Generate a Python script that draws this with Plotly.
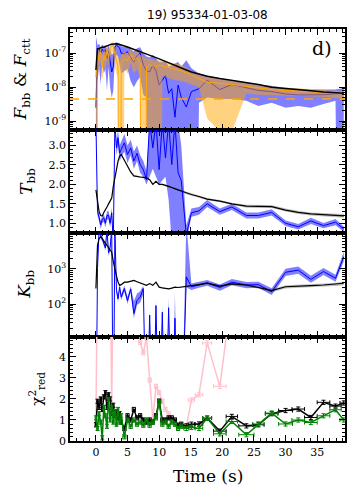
import plotly.graph_objects as go
from plotly.subplots import make_subplots

# time bins (s) and their half widths
TIME = [0.0, 0.25, 0.5, 0.75, 1.0, 1.25, 1.5, 1.75, 2.0, 2.25, 2.5, 2.75, 3.0, 3.25, 3.5, 3.75, 4.0,
        4.5, 5.0, 5.5, 6.0, 6.5, 7.0, 7.5, 8.0, 8.5, 9.0, 9.5, 10.0, 10.5, 11.0, 11.5, 12.0, 12.5, 13.0, 13.5,
        14.3, 15.1, 16.3, 17.6, 19.6, 21.5, 23.8, 25.7, 27.8, 30.0, 32.0, 34.0, 36.0, 37.9, 39.2]
TIME_HALF = [0.125] * 17 + [0.25] * 19 + [0.4, 0.5, 0.6, 0.7, 1.0, 0.9, 1.2, 0.9, 1.0, 1.1, 1.0, 1.0, 1.0, 0.9, 0.6]

# fluxes in units of 1e-9 erg/cm2/s (1e-20 = off the bottom of the plot)
F_TOT = [32, 135, 138, 145, 148, 150, 158, 165, 174, 178, 182, 186, 190, 190, 186, 182, 174,
         162, 151, 138, 129, 120, 110, 102, 93, 87, 79, 74, 68, 62, 56, 51, 47, 43, 39, 36,
         32, 28, 24, 21, 18, 16, 14, 12, 10, 9.3, 8.5, 7.9, 7.2, 6.9, 6.6]
F_BB = [2.5, 120, 140, 95, 130, 110, 125, 70, 115, 60, 28, 40, 150, 170, 160, 140, 100,
        95, 110, 75, 55, 85, 100, 45, 30, 28, 44, 30, 11.5, 16, 22, 6.6, 9, 1.3, 11.5, 5,
        2.6, 7.4, 9, 16, 8.5, 12, 9.5, 8, 7.4, 6.3, 5.9, 5.9, 6.0, 6.4, 6.6]
F_BB_LO = [1e-20, 15, 40, 12, 50, 25, 35, 8, 40, 10, 5, 8, 70, 90, 80, 50, 25,
           30, 35, 15, 10, 15, 20, 6, 5, 1e-20, 1e-20, 1e-20, 1e-20, 1e-20, 1e-20, 1e-20, 1e-20, 1e-20, 1e-20, 1e-20,
           1e-20, 1e-20, 3.5, 5, 4.5, 4.5, 4, 2.8, 3.5, 2.5, 2.8, 2.5, 3.2, 4, 1e-20]
F_BB_HI = [320, 170, 190, 150, 180, 160, 175, 130, 170, 120, 90, 100, 200, 210, 200, 190, 160,
           150, 160, 130, 110, 140, 150, 100, 80, 75, 90, 70, 55, 55, 60, 40, 45, 50, 55, 40,
           62, 36, 25, 22, 18, 15, 14, 12, 11, 9.5, 9, 8.5, 8.5, 8.5, 9.5]
F_CTT = [20, 100, 60, 110, 40, 90, 60, 120, 80, 140, 160, 170, 90, 60, 40, 1e-20, 50,
         70, 60, 90, 60, 75, 50, 1e-20, 40, 45, 42, 40, 45, 42, 40, 38, 36, 34, 33, 30,
         26, 22, 18, 14, 13, 12, 10.5, 9.5, 8.5, 8, 7.6, 7.3, 7.0, 6.7, 6.4]
F_CTT_LO = [1e-20, 50, 25, 60, 15, 45, 25, 70, 40, 80, 100, 110, 40, 25, 20, 1e-20, 1e-20,
            35, 25, 50, 25, 35, 20, 1e-20, 15, 1e-20, 1e-20, 1e-20, 1e-20, 22, 20, 18, 17, 16, 16, 15,
            14, 12, 10, 1.2, 0.5, 0.5, 6.5, 6, 5.8, 5.8, 5.5, 5.3, 5.2, 4.8, 4.5]
F_CTT_HI = [60, 150, 110, 160, 80, 140, 110, 170, 130, 190, 210, 220, 140, 110, 80, 60, 90,
            110, 100, 130, 100, 115, 90, 80, 70, 70, 65, 60, 62, 60, 57, 54, 52, 50, 48, 45,
            38, 30, 24, 20, 18, 16, 14, 12, 10.5, 9.8, 9.2, 8.8, 8.4, 8.0, 7.6]
F_LIMIT = 4.5e-9

# blackbody temperature (keV)
T_BB = [3.6, 1.3, 1.15, 0.96, 1.1, 1.14, 1.0, 1.2, 1.21, 1.0, 1.27, 0.5, 3.6, 2.94, 3.2, 2.8, 2.9,
        3.07, 2.77, 2.94, 2.6, 2.8, 2.51, 2.38, 2.12, 3.6, 2.94, 3.6, 2.38, 3.6, 2.68, 3.6, 2.51, 3.6, 2.3, 2.1,
        0.7, 1.27, 1.32, 1.5, 1.3, 1.42, 1.2, 1.2, 1.28, 1.0, 0.91, 1.06, 0.94, 1.03, 0.85]
T_BB_LO = [3.4, 1.2, 1.05, 0.86, 1.0, 1.04, 0.9, 1.1, 1.1, 0.9, 1.15, 0.3, 3.4, 2.75, 3.0, 2.6, 2.7,
           2.85, 2.55, 2.75, 2.4, 2.6, 2.3, 2.2, 2.0, 2.2, 2.4, 2.2, 2.0, 2.1, 2.2, 1.6, 0.5, 0.5, 0.5, 0.5,
           0.5, 1.17, 1.22, 1.42, 1.22, 1.34, 1.12, 1.12, 1.2, 0.93, 0.84, 0.98, 0.87, 0.95, 0.78]
T_BB_HI = [3.6, 1.4, 1.25, 1.06, 1.2, 1.24, 1.1, 1.3, 1.32, 1.1, 1.4, 0.7, 3.6, 3.1, 3.4, 3.0, 3.1,
           3.3, 3.0, 3.15, 2.85, 3.0, 2.75, 2.6, 2.35, 3.6, 3.6, 3.6, 3.6, 3.6, 3.6, 3.6, 3.6, 3.6, 3.6, 3.0,
           0.95, 1.38, 1.42, 1.6, 1.38, 1.5, 1.28, 1.28, 1.36, 1.07, 0.98, 1.14, 1.01, 1.11, 0.92]
T_BLACK = [1.86, 1.55, 1.3, 1.2, 1.19, 1.28, 1.37, 1.42, 1.5, 1.56, 1.65, 1.95, 2.2, 2.43, 2.6, 2.73, 2.77,
           2.62, 2.45, 2.32, 2.22, 2.2, 2.19, 2.18, 2.17, 2.12, 2.0, 2.08, 2.0, 2.0, 1.98, 1.95, 1.92, 1.88, 1.86, 1.83,
           1.78, 1.74, 1.69, 1.62, 1.57, 1.5, 1.44, 1.43, 1.43, 1.34, 1.28, 1.24, 1.22, 1.2, 1.19]
T_BLACK_ERR = [0.02] * 36 + [0.03, 0.03, 0.03, 0.03, 0.03, 0.03, 0.04, 0.04, 0.04, 0.04, 0.04, 0.04, 0.04, 0.04, 0.05]

# blackbody normalisation
K_BLACK = [275, 4570, 7080, 7940, 7080, 6030, 5370, 4570, 3980, 3390, 2950, 1580, 890, 630, 417, 339, 355,
           417, 417, 447, 468, 427, 398, 363, 339, 380, 339, 417, 302, 288, 275, 269, 282, 302, 295, 302,
           309, 331, 355, 389, 324, 372, 347, 295, 240, 309, 316, 331, 347, 363, 389]
K_BLACK_ERR = [0.03] * 36 + [0.05, 0.05, 0.06, 0.06, 0.07, 0.07, 0.08, 0.08, 0.1, 0.1, 0.1, 0.1, 0.1, 0.1, 0.12]
K_BB = [0.01, 1000, 12600, 8500, 7080, 5370, 3890, 12600, 2820, 3980, 12600, 0.01, 12600, 245, 141, 302, 158,
        275, 126, 269, 54, 126, 158, 275, 0.01, 49, 0.01, 91, 0.01, 59, 0.01, 79, 0.01, 40, 0.01, 0.01,
        589, 309, 347, 398, 295, 417, 347, 355, 224, 794, 912, 501, 832, 537, 2190]
K_BB_LO = [0.01, 850, 10000, 7000, 6000, 4500, 3200, 10000, 2300, 3300, 10000, 0.01, 10000, 200, 115, 250, 130,
           225, 100, 220, 40, 95, 110, 190, 0.01, 35, 0.01, 65, 0.01, 40, 0.01, 50, 0.01, 25, 0.01, 0.01,
           300, 250, 290, 330, 240, 340, 280, 290, 180, 620, 720, 400, 660, 430, 1600]
K_BB_HI = [0.01, 1200, 20000, 10000, 8500, 6500, 4700, 20000, 3400, 4800, 20000, 0.01, 20000, 300, 170, 370, 190,
           330, 160, 320, 120, 200, 230, 330, 0.01, 70, 0.01, 130, 0.01, 90, 0.01, 150, 0.01, 200, 0.01, 0.01,
           20000, 380, 420, 480, 360, 510, 420, 430, 280, 1000, 1150, 630, 1050, 680, 3000]

# reduced chi2 of the three models
CHI_BLACK = [0.77, 1.89, 1.6, 2.0, 1.5, 2.1, 2.3, 1.6, 2.2, 2.0, 1.3, 1.7, 1.2, 1.4, 1.1, 1.3, 0.9,
             0.6, 1.2, 1.0, 1.5, 1.1, 1.2, 1.0, 0.9, 1.0, 0.9, 1.2, 1.9, 1.0, 1.0, 1.1, 1.1, 1.0, 0.75, 0.8,
             0.72, 0.8, 0.81, 1.09, 0.47, 1.17, 0.72, 0.77, 1.3, 1.45, 1.52, 1.12, 1.84, 1.66, 1.81]
CHI_GREEN = [1.1, 0.6, 1.3, 0.9, 0.15, 1.6, 1.2, 0.7, 1.98, 1.0, 1.6, 0.9, 1.4, 0.8, 1.5, 0.9, 1.2,
             0.2, 1.0, 0.7, 1.0, 0.8, 0.9, 0.75, 1.0, 0.75, 0.9, 1.1, 1.85, 0.8, 0.9, 0.7, 0.9, 0.8, 0.6, 0.7,
             0.6, 0.65, 0.6, 1.09, 0.34, 0.93, 0.3, 0.81, 1.33, 0.81, 1.0, 0.88, 1.2, 1.49, 1.0]
CHI_PINK = [0.8, 9, 9, 9, 9, 9, 9, 9, 9, 9, 1.6, 9, 9, 9, 9, 9, 9,
            9, 9, 9, 9, 9, 4.7, 4.2, 4.9, 2.9, 1.0, 2.6, 2.3, 1.9, 1.5, 1.3, 1.0, 0.82, 0.78, 0.75,
            0.7, 1.95, 2.2, 4.67, 2.6, 7, 9, 9, 9, 9, 9, 9, 9, 9, 9]
CHI_ERR = 0.1

X_TICKS = [0, 5, 10, 15, 20, 25, 30, 35]
F_TICKS = [1e-9, 1e-8, 1e-7]
F_LABELS = ['10<sup>-9</sup>', '10<sup>-8</sup>', '10<sup>-7</sup>']
T_TICKS = [1.0, 1.5, 2.0, 2.5, 3.0]
K_TICKS = [100, 1000]
K_LABELS = ['10<sup>2</sup>', '10<sup>3</sup>']
CHI_TICKS = [0, 1, 2, 3, 4]

SERIF = 'DejaVu Serif'
BLUE_FILL = 'rgba(0,0,255,0.5)'
ORANGE_FILL = 'rgba(255,165,0,0.5)'
GREY_FILL = 'rgba(0,0,0,0.25)'

fig = make_subplots(rows=4, cols=1, shared_xaxes=True, vertical_spacing=0,
                    row_heights=[101, 103, 104, 104])


def add_band(row, lo, hi, color):
    fig.add_trace(go.Scatter(x=TIME, y=hi, mode='lines', line=dict(width=0),
                             showlegend=False, hoverinfo='skip'), row=row, col=1)
    fig.add_trace(go.Scatter(x=TIME, y=lo, mode='lines', line=dict(width=0),
                             fill='tonexty', fillcolor=color,
                             showlegend=False, hoverinfo='skip'), row=row, col=1)


def add_line(row, y, color, width=1.0):
    fig.add_trace(go.Scatter(x=TIME, y=y, mode='lines', line=dict(color=color, width=width),
                             showlegend=False), row=row, col=1)


def scale(vals, k):
    return [v * k for v in vals]


# panel 1: fluxes
add_band(1, scale(F_BB_LO, 1e-9), scale(F_BB_HI, 1e-9), BLUE_FILL)
add_line(1, scale(F_BB, 1e-9), 'blue')
add_band(1, scale(F_CTT_LO, 1e-9), scale(F_CTT_HI, 1e-9), ORANGE_FILL)
add_line(1, scale(F_CTT, 1e-9), 'orange')
add_line(1, scale(F_TOT, 1e-9), 'black', 1.5)
fig.add_hline(y=F_LIMIT, line=dict(color='orange', width=1.5, dash='dash'), row=1, col=1)

# panel 2: temperature
add_band(2, T_BB_LO, T_BB_HI, BLUE_FILL)
add_line(2, T_BB, 'blue')
add_band(2, [t - e for t, e in zip(T_BLACK, T_BLACK_ERR)],
         [t + e for t, e in zip(T_BLACK, T_BLACK_ERR)], GREY_FILL)
add_line(2, T_BLACK, 'black', 1.2)

# panel 3: normalisation
add_band(3, K_BB_LO, K_BB_HI, BLUE_FILL)
add_line(3, K_BB, 'blue')
add_band(3, [k * (1 - e) for k, e in zip(K_BLACK, K_BLACK_ERR)],
         [k * (1 + e) for k, e in zip(K_BLACK, K_BLACK_ERR)], GREY_FILL)
add_line(3, K_BLACK, 'black', 1.2)

# panel 4: reduced chi2
for vals, color in [(CHI_PINK, 'pink'), (CHI_BLACK, 'black'), (CHI_GREEN, 'green')]:
    fig.add_trace(go.Scatter(
        x=TIME, y=vals, mode='lines', line=dict(color=color, width=1.5),
        error_x=dict(type='data', array=TIME_HALF, color=color, thickness=1, width=2),
        error_y=dict(type='constant', value=CHI_ERR, color=color, thickness=1, width=2),
        showlegend=False), row=4, col=1)

tick_font = dict(family=SERIF, size=11, color='black')
axis_common = dict(showline=True, linecolor='black', linewidth=1.5, mirror='allticks',
                   ticks='inside', ticklen=6, tickwidth=1, tickcolor='black',
                   showgrid=False, zeroline=False, tickfont=tick_font)

fig.update_xaxes(range=[-4.1, 39.4], tickvals=X_TICKS,
                 minor=dict(ticks='inside', ticklen=3, dtick=1, tickcolor='black'),
                 **axis_common)
for r in (1, 2, 3):
    fig.update_xaxes(showticklabels=False, row=r, col=1)

fig.update_yaxes(type='log', range=[-9.26, -6.29], tickvals=F_TICKS, ticktext=F_LABELS,
                 minor=dict(ticks='inside', ticklen=3, dtick='D1', tickcolor='black'),
                 row=1, col=1, **axis_common)
fig.update_yaxes(range=[0.75, 3.4], tickvals=T_TICKS, tickformat='.1f',
                 minor=dict(ticks='inside', ticklen=3, dtick=0.1, tickcolor='black'),
                 row=2, col=1, **axis_common)
fig.update_yaxes(type='log', range=[1.07, 4.01], tickvals=K_TICKS, ticktext=K_LABELS,
                 minor=dict(ticks='inside', ticklen=3, dtick='D1', tickcolor='black'),
                 row=3, col=1, **axis_common)
fig.update_yaxes(range=[0, 4.95], tickvals=CHI_TICKS,
                 minor=dict(ticks='inside', ticklen=3, dtick=0.2, tickcolor='black'),
                 row=4, col=1, **axis_common)

label_font = dict(family=SERIF, size=17, color='black')


def note(text, x, y, font, angle=0):
    return dict(text=text, x=x, y=y, xref='paper', yref='paper', xanchor='center',
                yanchor='middle', textangle=angle, showarrow=False, font=font)


annotations = [
    note('19) 95334-01-03-08', 0.5, 1.034, dict(family='DejaVu Sans', size=12, color='black')),
    note('d)', 0.917, 0.953, dict(family=SERIF, size=19, color='black')),
    note('<i>F</i><sub>bb</sub> &amp; <i>F</i><sub>ctt</sub>', -0.175, 0.877, label_font, -90),
    note('<i>T</i><sub>bb</sub>', -0.155, 0.63, label_font, -90),
    note('<i>K</i><sub>bb</sub>', -0.16, 0.379, label_font, -90),
    note('χ<sup>2</sup><sub>red</sub>', -0.125, 0.126, dict(family=SERIF, size=15, color='black'), -90),
    note('Time (s)', 0.5, -0.084, label_font),
]
# the page body adds an 8px margin, so the figure is drawn 8px smaller each way
fig.update_layout(width=350, height=487, margin=dict(l=62, r=11, t=21, b=54),
                  plot_bgcolor='white', paper_bgcolor='white', showlegend=False,
                  annotations=annotations)

fig.write_html("out.html")
